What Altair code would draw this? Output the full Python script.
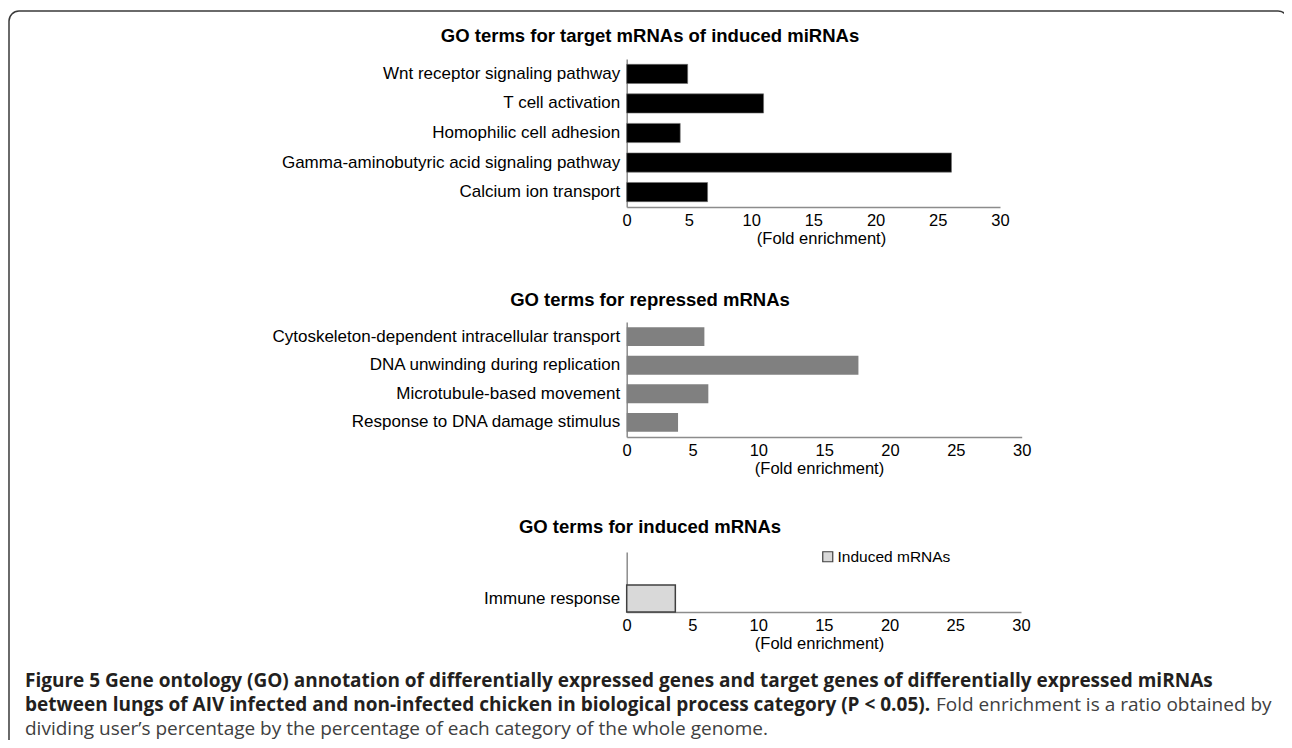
import altair as alt
import pandas as pd

# ---------------- data ----------------
top_terms = ["Wnt receptor signaling pathway", "T cell activation", "Homophilic cell adhesion",
             "Gamma-aminobutyric acid signaling pathway", "Calcium ion transport"]
top_values = [4.9, 11.0, 4.3, 26.1, 6.5]

mid_terms = ["Cytoskeleton-dependent intracellular transport", "DNA unwinding during replication",
             "Microtubule-based movement", "Response to DNA damage stimulus"]
mid_values = [5.9, 17.6, 6.2, 3.9]

bot_terms = ["Immune response"]
bot_values = [3.7]
bot_series = ["Induced mRNAs"]

x_ticks = [0, 5, 10, 15, 20, 25, 30]

panel_titles = ["GO terms for target mRNAs of induced miRNAs",
                "GO terms for repressed mRNAs",
                "GO terms for induced mRNAs"]
axis_title = "(Fold enrichment)"
cap_b1 = ("Figure 5 Gene ontology (GO) annotation of differentially expressed genes and "
          "target genes of differentially expressed miRNAs")
cap_b2 = ("between lungs of AIV infected and non-infected chicken in biological process "
          "category (P < 0.05).")
cap_n2 = "Fold enrichment is a ratio obtained by"
cap_n3 = "dividing user\u2019s percentage by the percentage of each category of the whole genome."

# ---------------- layout ----------------
W, H = 1276, 732
FONT = "Liberation Sans"
CAPFONT = "Open Sans"
X0 = 618.7
AXC = "#8c8c8c"


def xaxis(offset, title_x):
    return alt.Axis(orient="bottom", offset=offset, values=x_ticks, title=axis_title,
                    grid=False, ticks=False, domainColor=AXC, domainWidth=1.5,
                    labelFont=FONT, labelFontSize=16.5, labelColor="#000", labelPadding=5,
                    titleFont=FONT, titleFontSize=16.5, titleFontWeight="normal",
                    titleColor="#000", titlePadding=2, titleX=title_x, labelFlush=False)


def yaxis():
    return alt.Axis(orient="left", offset=-X0, title=None, ticks=False, grid=False,
                    domainColor=AXC, domainWidth=1.5, labelFont=FONT, labelFontSize=17,
                    labelColor="#000", labelPadding=7, labelLimit=600)


top_df = pd.DataFrame({"term": top_terms, "value": top_values})
mid_df = pd.DataFrame({"term": mid_terms, "value": mid_values})
bot_df = pd.DataFrame({"term": bot_terms, "value": bot_values, "series": bot_series})

top = alt.Chart(top_df).mark_bar(color="#000000", stroke="#6e6e6e", strokeWidth=0.6).encode(
    x=alt.X("value:Q", scale=alt.Scale(domain=[0, 30], range=[X0, 992], nice=False),
            axis=xaxis(199 - H, 813)),
    y=alt.Y("term:N", sort=top_terms,
            scale=alt.Scale(range=[51, 199], paddingInner=0.35, paddingOuter=0.18),
            axis=yaxis()),
)

mid = alt.Chart(mid_df).mark_bar(color="#808080").encode(
    x=alt.X("value:Q", scale=alt.Scale(domain=[0, 30], range=[X0, 1013.7], nice=False),
            axis=xaxis(429 - H, 811)),
    y=alt.Y("term:N", sort=mid_terms,
            scale=alt.Scale(range=[314, 429], paddingInner=0.34, paddingOuter=0.18),
            axis=yaxis()),
)

bot = alt.Chart(bot_df).mark_bar(stroke="#404040", strokeWidth=1.5).encode(
    x=alt.X("value:Q", scale=alt.Scale(domain=[0, 30], range=[X0, 1013], nice=False),
            axis=xaxis(604 - H, 811)),
    y=alt.Y("term:N", scale=alt.Scale(domain=[" "] + bot_terms, range=[544, 604],
                                      paddingInner=0.182, paddingOuter=0),
            axis=yaxis()),
    color=alt.Color("series:N", scale=alt.Scale(domain=bot_series, range=["#d9d9d9"]),
                    legend=alt.Legend(orient="none", legendX=812, legendY=541, title=None,
                                      symbolType="square", symbolSize=100,
                                      symbolStrokeColor="#404040", symbolStrokeWidth=1.2,
                                      labelFont=FONT, labelFontSize=15.5, labelColor="#000",
                                      padding=0, labelOffset=2)),
)

one = pd.DataFrame({"k": [0]})


def txt(s, x, y, size, weight, font, align="left", color="#000"):
    return alt.Chart(one).mark_text(text=s, font=font, fontSize=size, fontWeight=weight,
                                    align=align, baseline="alphabetic", color=color).encode(
        x=alt.value(x), y=alt.value(y))


titles = [txt(panel_titles[0], 642, 34, 18.5, "bold", FONT, "center"),
          txt(panel_titles[1], 642, 298, 18.5, "bold", FONT, "center"),
          txt(panel_titles[2], 642, 525, 18.5, "bold", FONT, "center")]

CS = 19
caption = [txt(cap_b1, 17, 679, CS, "bold", CAPFONT, color="#231f20"),
           txt(cap_b2, 17, 703, CS, "bold", CAPFONT, color="#231f20"),
           txt(cap_n2, 928, 703, CS, "normal", CAPFONT, color="#404040"),
           txt(cap_n3, 17, 727, CS, "normal", CAPFONT, color="#404040")]

frame = alt.Chart(one).mark_rect(fill=None, stroke="#3a3a3a", strokeWidth=1.5,
                                 cornerRadius=10).encode(
    x=alt.value(1), x2=alt.value(1280), y=alt.value(3), y2=alt.value(760))

chart = alt.layer(frame, top, mid, bot, *titles, *caption).resolve_scale(
    x="independent", y="independent"
).resolve_axis(x="independent", y="independent").properties(
    width=W, height=H, autosize=alt.AutoSizeParams(type="none"), padding=0,
    background="white"
).configure_view(stroke=None)

chart.save("out.html", embed_options={"renderer": "svg", "actions": False})
